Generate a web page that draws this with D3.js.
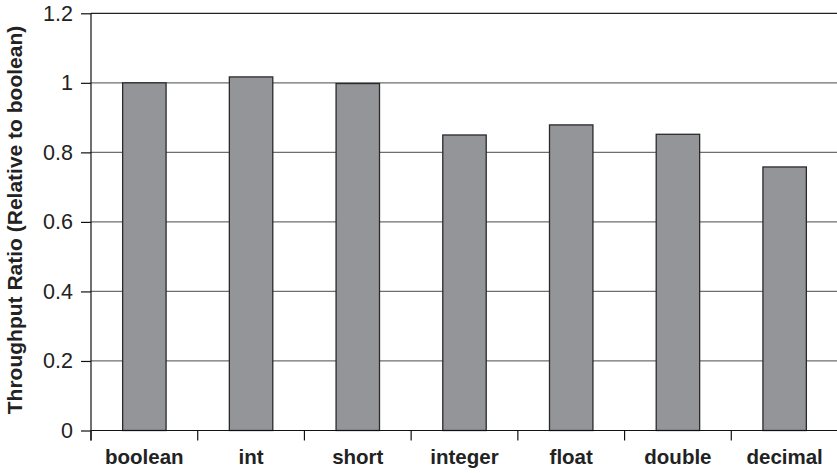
<!DOCTYPE html>
<html><head><meta charset="utf-8">
<script src="https://cdn.jsdelivr.net/npm/d3@7"></script>
<style>body{margin:0;background:#fff}svg{display:block}</style>
</head><body>
<script>
const categories = ["boolean","int","short","integer","float","double","decimal"];
const values = [1.0, 1.017, 0.998, 0.85, 0.879, 0.852, 0.758];
const yTicks = [0, 0.2, 0.4, 0.6, 0.8, 1, 1.2];
const yTitle = "Throughput Ratio (Relative to boolean)";

(function () {
const W = 837, H = 473;
const mLeft = 91, mRight = 838, mTop = 13.3, mBottom = 430.5;
const svg = d3.select("body").append("svg").attr("width", W).attr("height", H);

const x = d3.scaleBand().domain(categories).range([mLeft, mRight]).paddingInner(0.593).paddingOuter(0.2965);
const xc = d3.scaleBand().domain(categories).range([mLeft, mRight]).padding(0);
const y = d3.scaleLinear().domain([0, 1.2]).range([mBottom, mTop]);

// gridlines
svg.append("g").selectAll("line").data(yTicks.filter(d => d > 0)).join("line")
  .attr("x1", mLeft).attr("x2", W).attr("y1", d => y(d)).attr("y2", d => y(d))
  .attr("stroke", d => d === 1.2 ? "#222" : "#6e6e6e").attr("stroke-width", 1.2);

// bars
svg.append("g").selectAll("rect").data(values).join("rect")
  .attr("x", (d, i) => x(categories[i]))
  .attr("width", x.bandwidth())
  .attr("y", d => y(d))
  .attr("height", d => y(0) - y(d))
  .attr("fill", "#939598").attr("stroke", "#2a2a2a").attr("stroke-width", 1.3);

// y axis
const yAxis = d3.axisLeft(y).tickValues(yTicks).tickSize(10).tickPadding(8)
  .tickFormat(d => d3.format("")(+d.toFixed(1)));
const gy = svg.append("g").attr("transform", `translate(${mLeft},0)`).call(yAxis);
gy.select(".domain").attr("d", `M0,${mTop}V${mBottom + 10}`).attr("stroke", "#111").attr("stroke-width", 1.2);
gy.selectAll(".tick line").attr("stroke", "#111").attr("stroke-width", 1.2);
gy.selectAll("text").attr("font-family", "Liberation Sans, Arial, sans-serif").attr("font-size", 21.5).attr("fill", "#222");

// x axis
svg.append("line").attr("x1", mLeft).attr("x2", W).attr("y1", mBottom).attr("y2", mBottom)
  .attr("stroke", "#111").attr("stroke-width", 1.2);
svg.append("g").selectAll("line").data(categories).join("line")
  .attr("x1", d => xc(d)).attr("x2", d => xc(d)).attr("y1", mBottom).attr("y2", mBottom + 10)
  .attr("stroke", "#111").attr("stroke-width", 1.2);
svg.append("g").selectAll("text").data(categories).join("text")
  .attr("x", d => xc(d) + xc.bandwidth() / 2).attr("y", 464)
  .attr("text-anchor", "middle")
  .attr("font-family", "Liberation Sans, Arial, sans-serif").attr("font-weight", "bold")
  .attr("font-size", 20.5).attr("fill", "#222").text(d => d);

// y title
svg.append("text").attr("transform", `translate(22,220) rotate(-90)`)
  .attr("text-anchor", "middle")
  .attr("font-family", "Liberation Sans, Arial, sans-serif").attr("font-weight", "bold")
  .attr("font-size", 21).attr("fill", "#222").text(yTitle);
})();
</script>
</body></html>
